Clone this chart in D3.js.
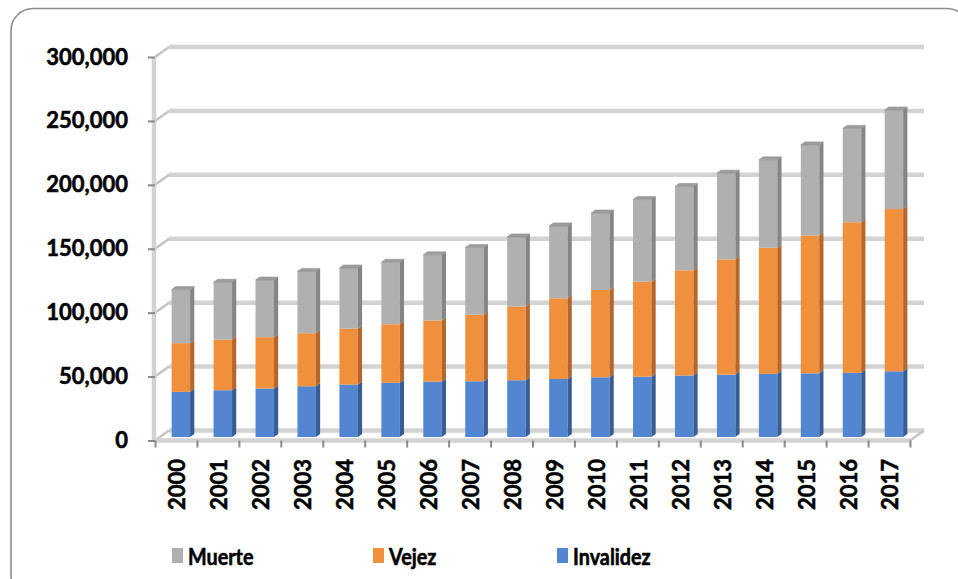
<html>

<head>
    <title>Pensiones</title>
    <style>
        body { margin: 0; background: #fff; }
        text { font-family: Lato, "Liberation Sans", sans-serif; font-weight: bold; fill: #000;
               stroke: #000; stroke-width: 0.55px; }
    </style>
</head>

<body>
    <div id="viz"></div>

    <script src="https://d3js.org/d3.v7.min.js"></script>
    <script>

        // data
        var years = ["2000", "2001", "2002", "2003", "2004", "2005", "2006", "2007", "2008",
            "2009", "2010", "2011", "2012", "2013", "2014", "2015", "2016", "2017"];
        var invalidez = [35300, 36600, 37900, 39700, 41000, 42400, 43300, 43600, 44400,
            45400, 46700, 47200, 48100, 48800, 49400, 49800, 50200, 51400];
        var vejez = [38100, 39500, 40200, 41500, 43700, 45800, 47800, 52000, 57600,
            63100, 68300, 74300, 82300, 90100, 98600, 107800, 117800, 126900];
        var muerte = [41900, 44900, 44700, 48300, 47500, 48500, 51400, 52600, 54500,
            56600, 60200, 64200, 65600, 67500, 68800, 70900, 73400, 77500];
        var seriesNames = ["Invalidez", "Vejez", "Muerte"];
        var yTicks = [0, 50000, 100000, 150000, 200000, 250000, 300000];
        var legendOrder = ["Muerte", "Vejez", "Invalidez"];

        // layout
        var width = 958;
        var height = 579;
        var x0 = 155, x1 = 910;
        var yBase = 440.5, yMax = 57;
        var depthX = 14, depthY = -10;
        var barFront = 0.35, barBack = 0.65;
        var legendX = [172, 373, 557];

        var front = { Invalidez: "#5386d1", Vejez: "#f0903c", Muerte: "#b0b0b0" };
        var side = { Invalidez: "#375d94", Vejez: "#b6662b", Muerte: "#858585" };
        var topC = { Invalidez: "#7aa0dc", Vejez: "#f5ad70", Muerte: "#9d9d9d" };

        var svg = d3.select("#viz")
            .append('svg')
            .attr('height', height)
            .attr('width', width);

        // frame
        svg.append('rect')
            .attr('x', 11).attr('y', 8.5)
            .attr('width', 958).attr('height', 590)
            .attr('rx', 22)
            .attr('fill', 'none')
            .attr('stroke', '#8c8c8c')
            .attr('stroke-width', 1.6);

        var x = d3.scaleBand().domain(years).range([x0, x1])
            .paddingInner(0.56).paddingOuter(0.28);
        var xCat = d3.scaleBand().domain(years).range([x0, x1]);
        var xTick = d3.scaleLinear().domain([0, years.length]).range([x0, x1]);
        var y = d3.scaleLinear().domain([0, 300000]).range([yBase, yMax]);

        var grid = svg.append('g');

        // back wall gridlines + left wall diagonals
        yTicks.forEach(function (t) {
            grid.append('line')
                .attr('x1', x0 + depthX).attr('x2', x1 + depthX)
                .attr('y1', y(t) + depthY).attr('y2', y(t) + depthY)
                .attr('stroke', '#d3d3d3').attr('stroke-width', 4.5);
            grid.append('line')
                .attr('x1', x0).attr('x2', x0 + depthX)
                .attr('y1', y(t)).attr('y2', y(t) + depthY)
                .attr('stroke', '#c4c4c4').attr('stroke-width', 2.5);
        });

        // left wall edge and floor front
        grid.append('line')
            .attr('x1', x0 - 1).attr('x2', x0 - 1)
            .attr('y1', y(300000)).attr('y2', yBase)
            .attr('stroke', '#d3d3d3').attr('stroke-width', 4.5);
        grid.append('line')
            .attr('x1', x0).attr('x2', x1)
            .attr('y1', yBase).attr('y2', yBase)
            .attr('stroke', '#d3d3d3').attr('stroke-width', 4.5);
        grid.append('line')
            .attr('x1', x1).attr('x2', x1 + depthX)
            .attr('y1', yBase).attr('y2', yBase + depthY)
            .attr('stroke', '#c4c4c4').attr('stroke-width', 2.5);

        // y axis
        var yAxis = svg.append('g')
            .attr('transform', 'translate(' + x0 + ',0)')
            .call(d3.axisLeft(y).tickValues(yTicks).tickFormat(d3.format(","))
                .tickSize(7).tickPadding(20));
        yAxis.select('.domain').remove();
        yAxis.selectAll('line').attr('stroke', '#8a8a8a').attr('stroke-width', 2);
        yAxis.selectAll('text')
            .style('font-family', 'Lato, sans-serif')
            .style('font-weight', 'bold')
            .style('font-size', '22px')
            .attr('fill', '#000');

        // x ticks at category boundaries
        var xAxisTicks = svg.append('g')
            .attr('transform', 'translate(0,' + yBase + ')')
            .call(d3.axisBottom(xTick).tickValues(d3.range(years.length + 1))
                .tickFormat('').tickSize(7));
        xAxisTicks.select('.domain').remove();
        xAxisTicks.selectAll('line').attr('stroke', '#8a8a8a').attr('stroke-width', 2);

        // x labels
        var xAxis = svg.append('g')
            .attr('transform', 'translate(1.5,' + yBase + ')')
            .call(d3.axisBottom(xCat).tickSize(0));
        xAxis.select('.domain').remove();
        xAxis.selectAll('text')
            .attr('transform', 'rotate(-90)')
            .attr('x', -18.5)
            .attr('y', 0)
            .attr('dy', '0.36em')
            .style('text-anchor', 'end')
            .style('font-family', 'Lato, sans-serif')
            .style('font-weight', 'bold')
            .style('font-size', '22px')
            .attr('fill', '#000');

        // stacked 3d bars
        var table = years.map(function (yr, i) {
            return { year: yr, Invalidez: invalidez[i], Vejez: vejez[i], Muerte: muerte[i] };
        });
        var stack = d3.stack().keys(seriesNames)(table);

        var fx = barFront * depthX, fy = barFront * depthY;
        var sx = (barBack - barFront) * depthX, sy = (barBack - barFront) * depthY;
        var w = x.bandwidth();

        var bars = svg.append('g');
        years.forEach(function (yr, i) {
            var g = bars.append('g');
            stack.forEach(function (layer, k) {
                var key = layer.key;
                var d = layer[i];
                var left = x(yr) + fx;
                var yt = y(d[1]) + fy;
                var yb = y(d[0]) + fy;
                g.append('rect')
                    .attr('x', left).attr('y', yt)
                    .attr('width', w).attr('height', yb - yt)
                    .attr('fill', front[key]);
                g.append('polygon')
                    .attr('points', [
                        [left + w, yt], [left + w + sx, yt + sy],
                        [left + w + sx, yb + sy], [left + w, yb]
                    ].join(' '))
                    .attr('fill', side[key]);
                if (k === stack.length - 1) {
                    g.append('polygon')
                        .attr('points', [
                            [left, yt], [left + sx, yt + sy],
                            [left + w + sx, yt + sy], [left + w, yt]
                        ].join(' '))
                        .attr('fill', topC[key])
                        .attr('stroke', '#8f8f8f')
                        .attr('stroke-width', 0.6);
                }
            });
        });

        // legend
        var legend = svg.append('g');
        legendOrder.forEach(function (name, i) {
            legend.append('rect')
                .attr('x', legendX[i]).attr('y', 548)
                .attr('width', 11).attr('height', 15)
                .attr('fill', front[name]);
            legend.append('text')
                .attr('transform', 'translate(' + (legendX[i] + 16) + ',565) scale(0.9,1)')
                .style('font-size', '22px')
                .text(name);
        });

    </script>
</body>

</html>
